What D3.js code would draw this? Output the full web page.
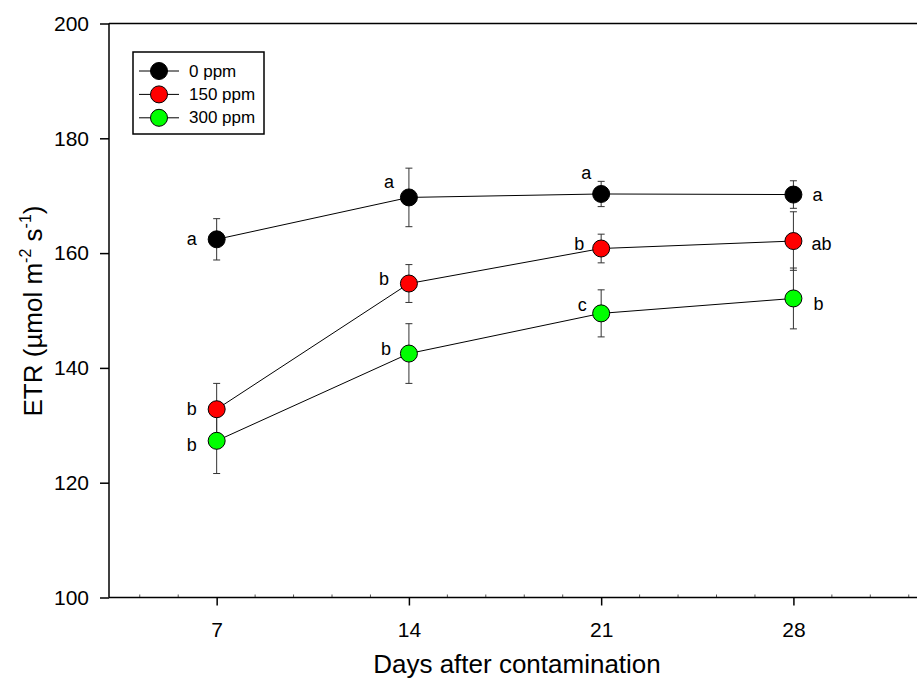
<!DOCTYPE html>
<html>
<head>
<meta charset="utf-8">
<script src="https://cdn.jsdelivr.net/npm/d3@7"></script>
<style>
  body { margin: 0; background: #fff; }
  svg { display: block; font-family: Arial, "Liberation Sans", sans-serif; }
</style>
</head>
<body>
<svg id="chart" width="917" height="680"></svg>
<script>
// Sampling days and treatments
const days = [7, 14, 21, 28];
const seriesNames = ["0 ppm", "150 ppm", "300 ppm"];

// Mean ETR and error per treatment
const etr0   = [162.4, 169.7, 170.3, 170.2];
const err0   = [3.6, 5.1, 2.2, 2.4];
const etr150 = [132.8, 154.7, 160.8, 162.1];
const err150 = [4.5, 3.3, 2.5, 5.1];
const etr300 = [127.3, 142.5, 149.5, 152.1];
const err300 = [5.7, 5.2, 4.1, 5.3];

// Significance letters per treatment
const letters0   = ["a", "a", "a", "a"];
const letters150 = ["b", "b", "b", "ab"];
const letters300 = ["b", "b", "c", "b"];

// Axis ticks
const xTicks = [7, 14, 21, 28];
const yTicks = [100, 120, 140, 160, 180, 200];

// Styling per series
const fills = ["#000000", "#ff0000", "#00ff00"];
// Where each letter sits relative to its marker (dx, dy in px)
const letterOffsets = [
  [[-25, 0], [-20, -15], [-15, -21], [24, 0]],
  [[-25, 0], [-25, -5], [-22, -5], [28, 3]],
  [[-25, 4], [-23, -5], [-19, -8], [25, 6]]
];

const series = [
  { name: seriesNames[0], values: etr0, errs: err0, letters: letters0 },
  { name: seriesNames[1], values: etr150, errs: err150, letters: letters150 },
  { name: seriesNames[2], values: etr300, errs: err300, letters: letters300 }
];

const svg = d3.select("#chart");
const plotL = 109, plotR = 917, plotT = 23.5, plotB = 597.5;

const x = d3.scaleLinear().domain([3.08, 32.5]).range([plotL, plotR]);
const y = d3.scaleLinear().domain([100, 200]).range([plotB, plotT]);

// Frame: top line
svg.append("line")
  .attr("x1", plotL).attr("x2", plotR).attr("y1", plotT).attr("y2", plotT)
  .attr("stroke", "#000").attr("stroke-width", 1.5);

// Minor x ticks (inside)
const minor = d3.range(4.2, 32.5, 1.4).filter(v => !xTicks.some(t => Math.abs(t - v) < 0.01));
svg.append("g").selectAll("line").data(minor).join("line")
  .attr("x1", d => x(d)).attr("x2", d => x(d))
  .attr("y1", plotB).attr("y2", plotB - 3)
  .attr("stroke", "#555").attr("stroke-width", 1);

// Y axis
const yAxis = svg.append("g")
  .attr("transform", `translate(${plotL},0)`)
  .call(d3.axisLeft(y).tickValues(yTicks).tickSize(9).tickPadding(11).tickSizeOuter(0));
yAxis.select(".domain").attr("stroke-width", 1.5).attr("d", `M0,${plotT}V${plotB}`);
yAxis.selectAll(".tick line").attr("stroke-width", 1.5);
yAxis.selectAll("text").attr("font-size", 21).attr("fill", "#000")
  .attr("font-family", "Arial, 'Liberation Sans', sans-serif");

// X axis
const xAxis = svg.append("g")
  .attr("transform", `translate(0,${plotB})`)
  .call(d3.axisBottom(x).tickValues(xTicks).tickSize(8).tickPadding(17).tickSizeOuter(0));
xAxis.select(".domain").attr("stroke-width", 1.5).attr("d", `M${plotL},0H${plotR}`);
xAxis.selectAll(".tick line").attr("stroke-width", 1.5);
xAxis.selectAll("text").attr("font-size", 21).attr("fill", "#000")
  .attr("font-family", "Arial, 'Liberation Sans', sans-serif");

// Axis titles
svg.append("text")
  .attr("x", 517).attr("y", 673)
  .attr("text-anchor", "middle").attr("font-size", 26)
  .text("Days after contamination");

const yTitle = svg.append("text")
  .attr("transform", "translate(42,311) rotate(-90)")
  .attr("text-anchor", "middle").attr("font-size", 26);
yTitle.append("tspan").text("ETR (µmol m");
yTitle.append("tspan").attr("font-size", 16).attr("dy", -11).text("-2");
yTitle.append("tspan").attr("dy", 11).text(" s");
yTitle.append("tspan").attr("font-size", 16).attr("dy", -11).text("-1");
yTitle.append("tspan").attr("dy", 11).text(")");

// Data: lines, error bars, markers, letters
const line = d3.line().x((d, i) => x(days[i])).y(d => y(d));
const capW = 3.5;

series.forEach((s, si) => {
  const g = svg.append("g");
  g.append("path").attr("d", line(s.values))
    .attr("fill", "none").attr("stroke", "#000").attr("stroke-width", 1);

  const eb = g.append("g").selectAll("g").data(s.values).join("g")
    .attr("stroke", "#333").attr("stroke-width", 1);
  eb.append("line")
    .attr("x1", (d, i) => x(days[i])).attr("x2", (d, i) => x(days[i]))
    .attr("y1", (d, i) => y(d + s.errs[i])).attr("y2", (d, i) => y(d - s.errs[i]));
  eb.append("line")
    .attr("x1", (d, i) => x(days[i]) - capW).attr("x2", (d, i) => x(days[i]) + capW)
    .attr("y1", (d, i) => y(d + s.errs[i])).attr("y2", (d, i) => y(d + s.errs[i]));
  eb.append("line")
    .attr("x1", (d, i) => x(days[i]) - capW).attr("x2", (d, i) => x(days[i]) + capW)
    .attr("y1", (d, i) => y(d - s.errs[i])).attr("y2", (d, i) => y(d - s.errs[i]));
});

series.forEach((s, si) => {
  const g = svg.append("g");
  g.selectAll("circle").data(s.values).join("circle")
    .attr("cx", (d, i) => x(days[i])).attr("cy", d => y(d)).attr("r", 8.5)
    .attr("fill", fills[si]).attr("stroke", "#000").attr("stroke-width", 1);
  g.selectAll("text").data(s.letters).join("text")
    .attr("x", (d, i) => x(days[i]) + letterOffsets[si][i][0])
    .attr("y", (d, i) => y(s.values[i]) + letterOffsets[si][i][1])
    .attr("text-anchor", "middle").attr("dominant-baseline", "central")
    .attr("font-size", 18).text(d => d);
});

// Legend
const lg = svg.append("g");
lg.append("rect").attr("x", 133).attr("y", 52).attr("width", 131).attr("height", 82)
  .attr("fill", "#fff").attr("stroke", "#000").attr("stroke-width", 1.5);
const rows = lg.selectAll("g").data(series).join("g")
  .attr("transform", (d, i) => `translate(0,${71 + i * 23.4})`);
rows.append("line").attr("x1", 139).attr("x2", 179).attr("y1", 0).attr("y2", 0)
  .attr("stroke", "#000").attr("stroke-width", 1);
rows.append("circle").attr("cx", 159).attr("cy", 0).attr("r", 8.5)
  .attr("fill", (d, i) => fills[i]).attr("stroke", "#000").attr("stroke-width", 1);
rows.append("text").attr("x", 189).attr("y", 0).attr("dominant-baseline", "central")
  .attr("font-size", 17).text(d => d.name);
</script>
</body>
</html>
